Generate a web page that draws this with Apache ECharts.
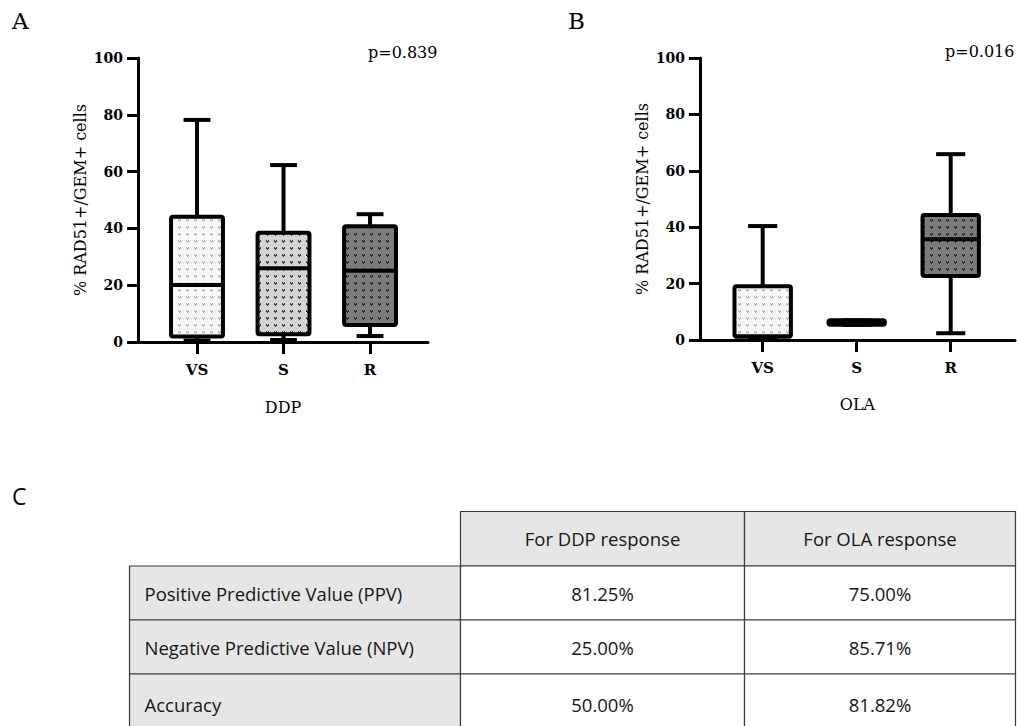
<!DOCTYPE html>
<html>
<head>
<meta charset="utf-8">
<script src="https://cdn.jsdelivr.net/npm/echarts@6/dist/echarts.min.js"></script>
<style>
  html, body { margin: 0; padding: 0; background: #fff; }
  #chart { width: 1017px; height: 726px; }
</style>
</head>
<body>
<div id="chart"></div>
<script>
// categories on both box plots
const categories = ['VS', 'S', 'R'];
// each box: [min, Q1, median, Q3, max]
const ddpVS = [0.5, 1.9, 20.1, 44.1, 78.2];
const ddpS = [0.7, 2.7, 26.0, 38.5, 62.3];
const ddpR = [2.1, 6.0, 25.1, 40.8, 45.0];
const olaVS = [0.4, 1.2, 1.2, 19.1, 40.4];
const olaS = [5.4, 5.4, 6.2, 7.0, 7.0];
const olaR = [2.4, 22.7, 35.7, 44.3, 65.9];
const yTicks = [0, 20, 40, 60, 80, 100];
const pValues = ['p=0.839', 'p=0.016'];
const drugNames = ['DDP', 'OLA'];
const yName = '% RAD51+/GEM+ cells';

// table C
const tableCols = ['For DDP response', 'For OLA response'];
const tableRows = ['Positive Predictive Value (PPV)', 'Negative Predictive Value (NPV)', 'Accuracy'];
const ddpStats = ['81.25%', '25.00%', '50.00%'];
const olaStats = ['75.00%', '85.71%', '81.82%'];

const SERIF = '"DejaVu Serif", "Liberation Serif", serif';
const SANS = '"Open Sans", Lato, sans-serif';

function makePattern(bg, mark) {
    const c = document.createElement('canvas');
    c.width = 8;
    c.height = 7;
    const ctx = c.getContext('2d');
    ctx.fillStyle = bg;
    ctx.fillRect(0, 0, 8, 7);
    ctx.fillStyle = mark;
    // little heart-ish mark like the prism fill
    ctx.fillRect(2, 2, 1, 1);
    ctx.fillRect(4, 2, 1, 1);
    ctx.fillRect(2, 3, 3, 1);
    ctx.fillRect(3, 4, 1, 1);
    return { image: c, repeat: 'repeat', imageWidth: 8, imageHeight: 7 };
}

const patterns = [
    makePattern('#f7f7f7', '#b8b8b8'),
    makePattern('#d4d4d4', '#3a3a3a'),
    makePattern('#7c7c7c', '#2c2c2c')
];

function toRows(boxes) {
    return boxes.map(function (b, i) { return [i].concat(b); });
}

function renderBox(params, api) {
    const idx = api.value(0);
    const lo = api.coord([idx, api.value(1)]);
    const q1 = api.coord([idx, api.value(2)]);
    const med = api.coord([idx, api.value(3)]);
    const q3 = api.coord([idx, api.value(4)]);
    const hi = api.coord([idx, api.value(5)]);
    const cx = lo[0];
    const halfBox = api.size([0.6, 0])[0] / 2;
    const halfCap = api.size([0.31, 0])[0] / 2;
    const ln = { stroke: '#000', lineWidth: 4 };
    return {
        type: 'group',
        children: [
            { type: 'line', shape: { x1: cx, y1: q3[1], x2: cx, y2: hi[1] }, style: ln },
            { type: 'line', shape: { x1: cx - halfCap, y1: hi[1], x2: cx + halfCap, y2: hi[1] }, style: ln },
            { type: 'line', shape: { x1: cx, y1: q1[1], x2: cx, y2: lo[1] }, style: ln },
            { type: 'line', shape: { x1: cx - halfCap, y1: lo[1], x2: cx + halfCap, y2: lo[1] }, style: ln },
            {
                type: 'rect',
                shape: { x: cx - halfBox, y: q3[1], width: halfBox * 2, height: q1[1] - q3[1], r: 2 },
                style: { fill: patterns[idx], stroke: '#000', lineWidth: 4, lineJoin: 'round' }
            },
            { type: 'line', shape: { x1: cx - halfBox, y1: med[1], x2: cx + halfBox, y2: med[1] }, style: ln }
        ]
    };
}

function xAxisFor(gridIndex, min, max, name, gap) {
    return {
        type: 'value', gridIndex: gridIndex, min: min, max: max,
        name: name, nameLocation: 'middle', nameGap: gap,
        nameTextStyle: { fontFamily: SERIF, fontSize: 16, color: '#000' },
        axisLine: { onZero: false, lineStyle: { color: '#000', width: 3 } },
        axisTick: { customValues: [0, 1, 2], length: 12, lineStyle: { color: '#000', width: 3 } },
        axisLabel: {
            customValues: [0, 1, 2], margin: 20,
            formatter: function (v) { return categories[Math.round(v)]; },
            fontFamily: SERIF, fontWeight: 'bold', fontSize: 15, color: '#000'
        },
        splitLine: { show: false }
    };
}

function yAxisFor(gridIndex) {
    return {
        type: 'value', gridIndex: gridIndex,
        min: yTicks[0], max: yTicks[yTicks.length - 1], interval: 20,
        name: yName, nameLocation: 'middle', nameGap: 50, nameRotate: 90,
        nameTextStyle: { fontFamily: SERIF, fontSize: 16, color: '#000' },
        axisLine: { show: true, onZero: false, lineStyle: { color: '#000', width: 3 } },
        axisTick: { show: true, length: 11, lineStyle: { color: '#000', width: 3 } },
        axisLabel: { margin: 15, fontFamily: SERIF, fontWeight: 'bold', fontSize: 14, color: '#000' },
        splitLine: { show: false }
    };
}

// table geometry
const colX = [129.5, 460.5, 744.5, 1015.5];
const rowY = [511.5, 566, 620, 674, 734];
const tableGraphics = [];
const gray = '#e6e6e6';
const border = '#3a3a3a';
function cell(x0, x1, y0, y1, fill) {
    tableGraphics.push({
        type: 'rect', z: 1,
        shape: { x: x0, y: y0, width: x1 - x0, height: y1 - y0 },
        style: { fill: fill, stroke: border, lineWidth: 1.2 }
    });
}
function cellText(text, x, y, align) {
    tableGraphics.push({
        type: 'text', z: 2, x: x, y: y,
        style: { text: text, font: '18.5px ' + SANS, fill: '#161616', align: align, verticalAlign: 'middle' }
    });
}
tableCols.forEach(function (t, i) {
    cell(colX[i + 1], colX[i + 2], rowY[0], rowY[1], gray);
    cellText(t, (colX[i + 1] + colX[i + 2]) / 2, (rowY[0] + rowY[1]) / 2, 'center');
});
tableRows.forEach(function (t, r) {
    const y0 = rowY[r + 1], y1 = rowY[r + 2], yc = (y0 + y1) / 2;
    cell(colX[0], colX[1], y0, y1, gray);
    cell(colX[1], colX[2], y0, y1, '#fff');
    cell(colX[2], colX[3], y0, y1, '#fff');
    cellText(t, colX[0] + 15, yc, 'left');
    cellText(ddpStats[r], (colX[1] + colX[2]) / 2, yc, 'center');
    cellText(olaStats[r], (colX[2] + colX[3]) / 2, yc, 'center');
});

function label(text, x, y, font, align) {
    return {
        type: 'text', x: x, y: y,
        style: { text: text, font: font, fill: '#000', align: align || 'left', verticalAlign: 'middle' }
    };
}

const chart = echarts.init(document.getElementById('chart'), null, { renderer: 'svg' });
chart.setOption({
    animation: false,
    backgroundColor: '#fff',
    grid: [
        { left: 138, top: 58, width: 290, height: 284 },
        { left: 700, top: 58, width: 315, height: 282 }
    ],
    xAxis: [
        xAxisFor(0, -0.682, 2.67, drugNames[0], 57),
        xAxisFor(1, -0.667, 2.684, drugNames[1], 56)
    ],
    yAxis: [yAxisFor(0), yAxisFor(1)],
    series: [
        {
            type: 'custom', xAxisIndex: 0, yAxisIndex: 0, clip: false,
            renderItem: renderBox, encode: { x: 0, y: [1, 2, 3, 4, 5] },
            data: toRows([ddpVS, ddpS, ddpR])
        },
        {
            type: 'custom', xAxisIndex: 1, yAxisIndex: 1, clip: false,
            renderItem: renderBox, encode: { x: 0, y: [1, 2, 3, 4, 5] },
            data: toRows([olaVS, olaS, olaR])
        }
    ],
    graphic: [
        label('A', 12, 21, '23px ' + SERIF),
        label('B', 568, 21, '23px ' + SERIF),
        label(pValues[0], 368, 52, '16px ' + SERIF),
        label(pValues[1], 945, 51, '16px ' + SERIF),
        label('C', 12, 496, '23px ' + SANS)
    ].concat(tableGraphics)
});
</script>
</body>
</html>
